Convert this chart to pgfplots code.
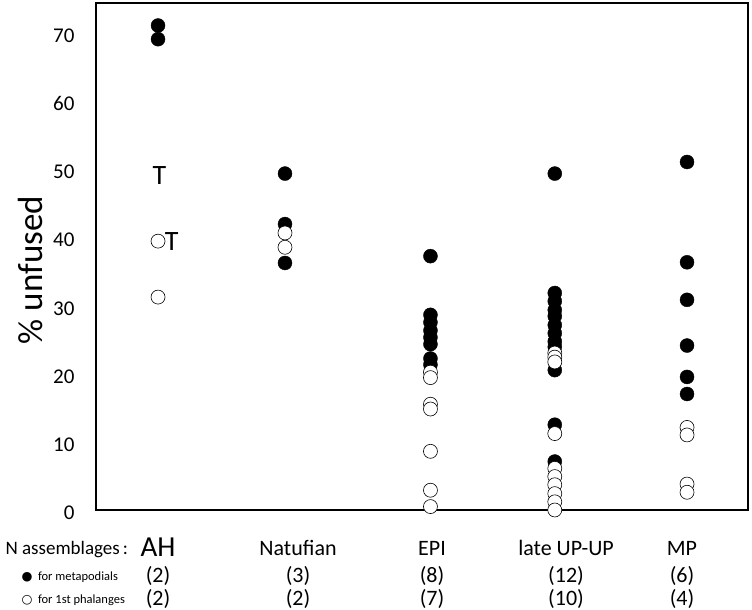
\documentclass[border=0pt]{standalone}
\usepackage{pgfplots}
\pgfplotsset{compat=1.18}
\usepackage{fontspec}
\setmainfont{Carlito}
\newfontfamily\sym{DejaVu Sans}
\begin{document}
\begin{tikzpicture}
\useasboundingbox (0pt,0pt) rectangle (752pt,610pt);
\begin{axis}[
  at={(96pt,100pt)}, anchor=south west,
  scale only axis, width=652pt, height=507pt,
  xmin=0.531, xmax=5.461, ymin=0, ymax=74.3,
  xtick=\empty, ytick={0,10,...,70},
  major tick length=0pt,
  axis line style={line width=1.9pt},
  /pgf/number format/assume math mode=true,
  yticklabel style={font=\fontsize{21}{21}\selectfont, yshift=-3pt, xshift=-18pt},
  clip=false,
]
% filled: metapodials
\addplot[only marks, mark=*, mark size=7pt, black] coordinates {
 (1,71.0) (1,69.0)
 (1.96,49.3) (1.96,41.9) (1.96,36.2)
 (3.06,37.2) (3.06,28.6) (3.06,27.5) (3.06,26.3) (3.06,25.3) (3.06,24.3) (3.06,22.2) (3.06,21.3)
 (4,49.3) (4,31.8) (4,30.6) (4,29.3) (4,28.4) (4,27.1) (4,25.9) (4,24.7) (4,23.9) (4,20.5) (4,12.5) (4,7.1)
 (5,51.0) (5,36.3) (5,30.8) (5,24.1) (5,19.5) (5,17.0)
};
% open: 1st phalanges
\addplot[only marks, mark=*, mark size=7pt, mark options={fill=white, draw=black, line width=0.6pt}] coordinates {
 (1,39.4) (1,31.2)
 (1.96,40.6) (1.96,38.5)
 (3.06,20.2) (3.06,19.4) (3.06,15.5) (3.06,14.8) (3.06,8.6) (3.06,2.9) (3.06,0.5)
 (4,23.0) (4,22.4) (4,21.7) (4,11.2) (4,6.1) (4,4.9) (4,3.7) (4,2.4) (4,1.2) (4,0.0)
 (5,12.1) (5,11.0) (5,3.8) (5,2.6)
};
\node[font=\fontsize{28}{28}\selectfont] at (axis cs:1.01,49.0) {T};
\node[font=\fontsize{28}{28}\selectfont] at (axis cs:1.104,39.4) {T};
\end{axis}
\node[rotate=90, font=\fontsize{35}{35}\selectfont] at (30pt,340pt) {\% unfused};
\node[anchor=west, font=\fontsize{19}{19}\selectfont] at (2pt,60pt) {N assemblages\,:};
\node[anchor=west, font=\fontsize{12.5}{12.5}\selectfont] at (18pt,33pt) {{\sym ●}\ \ for metapodials};
\node[anchor=west, font=\fontsize{12.5}{12.5}\selectfont] at (18pt,10pt) {{\sym ○}\ \ for 1st phalanges};
\begin{scope}[every node/.style={font=\fontsize{22}{22}\selectfont}]
\node[font=\fontsize{29}{29}\selectfont] at (158pt,63pt) {AH};
\node at (298pt,62pt) {Natufian};
\node at (432pt,62pt) {EPI};
\node at (566pt,62pt) {late UP-UP};
\node at (682pt,62pt) {MP};
\node at (158pt,34pt) {(2)};
\node at (298pt,34pt) {(3)};
\node at (432pt,34pt) {(8)};
\node at (566pt,34pt) {(12)};
\node at (682pt,34pt) {(6)};
\node at (158pt,11pt) {(2)};
\node at (298pt,11pt) {(2)};
\node at (432pt,11pt) {(7)};
\node at (566pt,11pt) {(10)};
\node at (682pt,11pt) {(4)};
\end{scope}
\end{tikzpicture}
\end{document}
